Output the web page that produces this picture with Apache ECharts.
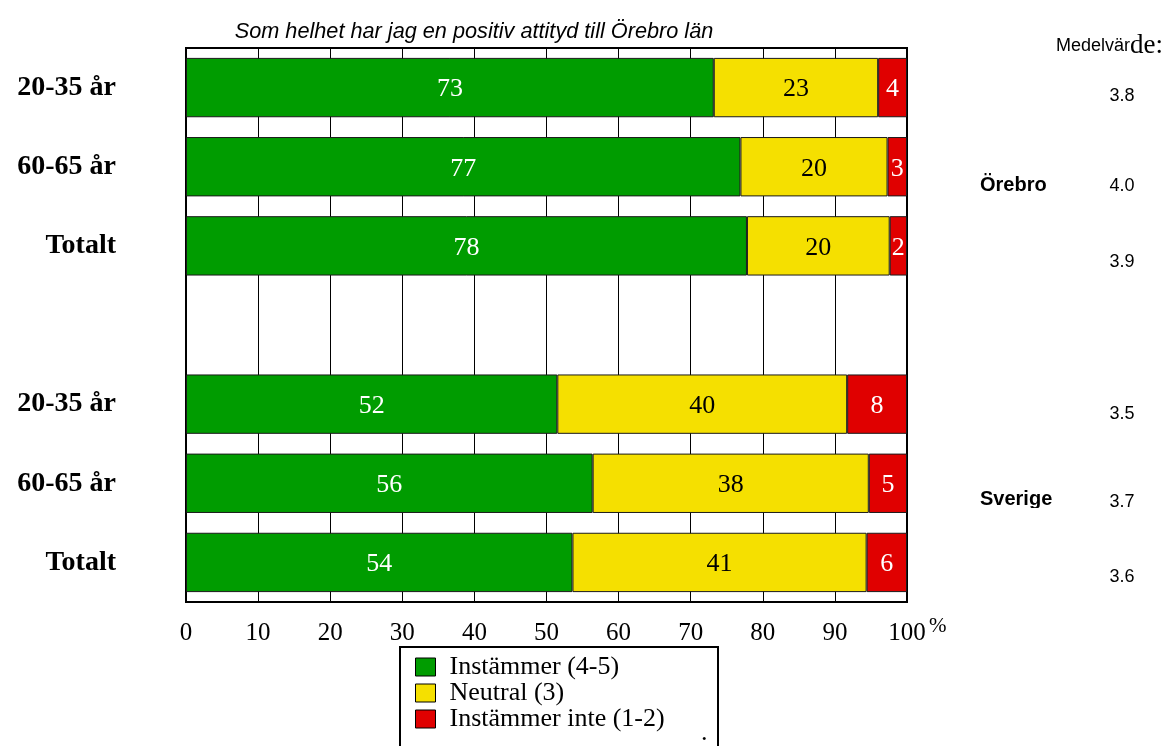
<!DOCTYPE html>
<html>
<head>
<meta charset="utf-8">
<script src="https://cdn.jsdelivr.net/npm/echarts@6/dist/echarts.min.js"></script>
<style>
	html, body { margin: 0; padding: 0; background: #fff; }
	#chart { width: 1166px; height: 746px; }
</style>
</head>
<body>
<div id="chart"></div>
<script>
	"use strict";

	// ______________ DATA
	var categories = ['20-35 år', '60-65 år', 'Totalt', '', '20-35 år', '60-65 år', 'Totalt'];
	var agree = [73.2, 76.9, 77.8, null, 51.5, 56.4, 53.6];
	var neutral = [22.8, 20.4, 19.8, null, 40.2, 38.3, 40.8];
	var disagree = [4.0, 2.7, 2.4, null, 8.3, 5.3, 5.6];
	var seriesNames = ['Instämmer (4-5)', 'Neutral (3)', 'Instämmer inte (1-2)'];
	var means = ['3.8', '4.0', '3.9', '3.5', '3.7', '3.6'];
	var meanY = [96, 186, 262, 414, 502, 577];
	var xTicks = [0, 10, 20, 30, 40, 50, 60, 70, 80, 90, 100];

	var serif = '"Liberation Serif", "Times New Roman", serif';
	var sans = '"Liberation Sans", Arial, sans-serif';

	function barSeries(name, data, color, textColor) {
		return {
			name: name,
			type: 'bar',
			stack: 'total',
			barCategoryGap: '25%',
			data: data,
			itemStyle: { color: color, borderColor: '#1a1a1a', borderWidth: 1 },
			label: {
				show: true,
				position: 'inside',
				offset: [0, 2],
				color: textColor,
				fontFamily: serif,
				fontSize: 26,
				formatter: function(p) { return p.value == null ? '' : Math.round(p.value); }
			}
		};
	}

	// ______________ side texts
	function txt(x, y, text, font, size, weight, align) {
		return {
			type: 'text', x: x, y: y, z: 10,
			style: {
				text: text, fill: '#000',
				font: (weight || 'normal') + ' ' + size + 'px ' + font,
				align: align || 'left', textAlign: align || 'left',
				verticalAlign: 'middle', textVerticalAlign: 'middle'
			}
		};
	}

	var graphics = [{
		type: 'text', x: 1163, y: 46, z: 10,
		style: {
			text: '{a|Medelvär}{b|de:}',
			align: 'right', textAlign: 'right',
			verticalAlign: 'middle', textVerticalAlign: 'middle',
			rich: {
				a: { fontFamily: sans, fontSize: 18, color: '#000' },
				b: { fontFamily: serif, fontSize: 27, color: '#000' }
			}
		}
	},
		txt(980, 185, 'Örebro', sans, 20, 'bold'),
		txt(980, 499, 'Sverige', sans, 20, 'bold'),
	{
		// Sverige label is cut off at its baseline in the original
		type: 'rect', z: 11, shape: { x: 975, y: 508, width: 90, height: 10 },
		style: { fill: '#fff' }
	},
		txt(929, 626, '%', serif, 21),
		txt(701, 733, '.', serif, 26),
	{
		type: 'rect', z: 1, shape: { x: 400, y: 647, width: 318, height: 130 },
		style: { fill: 'none', stroke: '#000', lineWidth: 2 }
	}];
	means.forEach(function(m, i) {
		graphics.push(txt(1122, meanY[i], m, sans, 18, 'normal', 'center'));
	});

	var chart = echarts.init(document.getElementById('chart'));
	chart.setOption({
		animation: false,
		color: ['#009c00', '#f5e000', '#e00000'],
		title: {
			text: 'Som helhet har jag en positiv attityd till Örebro län',
			left: 469, top: 16, textAlign: 'center',
			textStyle: { fontFamily: sans, fontStyle: 'italic', fontWeight: 'normal', fontSize: 21.7, color: '#000' }
		},
		legend: {
			orient: 'vertical',
			left: 415, top: 654,
			data: seriesNames,
			icon: 'rect',
			itemWidth: 20, itemHeight: 18, itemGap: 0,
			padding: 0,
			textStyle: { fontFamily: serif, fontSize: 26, lineHeight: 26, color: '#000', padding: [0, 0, 0, 9] },
			itemStyle: { borderColor: '#000', borderWidth: 1 }
		},
		grid: {
			left: 186, right: 259, top: 48, bottom: 144,
			show: true, borderColor: '#000', borderWidth: 2, backgroundColor: 'transparent'
		},
		xAxis: {
			type: 'value', min: 0, max: 100, interval: 10,
			axisLine: { show: true, lineStyle: { color: '#000', width: 2 } },
			axisTick: { show: false },
			splitLine: { show: true, lineStyle: { color: '#000', width: 1 } },
			axisLabel: {
				margin: 19, fontFamily: serif, fontSize: 25, color: '#000',
				formatter: function(v) { return xTicks.indexOf(v) >= 0 ? String(v) : ''; }
			}
		},
		yAxis: {
			type: 'category', inverse: true, data: categories,
			axisLine: { show: true, lineStyle: { color: '#000', width: 2 } },
			axisTick: { show: false },
			axisLabel: { margin: 70, padding: [9, 0, 0, 0], fontFamily: serif, fontWeight: 'bold', fontSize: 28, color: '#000' }
		},
		series: [
			barSeries(seriesNames[0], agree, '#009c00', '#fff'),
			barSeries(seriesNames[1], neutral, '#f5e000', '#000'),
			barSeries(seriesNames[2], disagree, '#e00000', '#fff')
		],
		graphic: graphics
	});
</script>
</body>
</html>
